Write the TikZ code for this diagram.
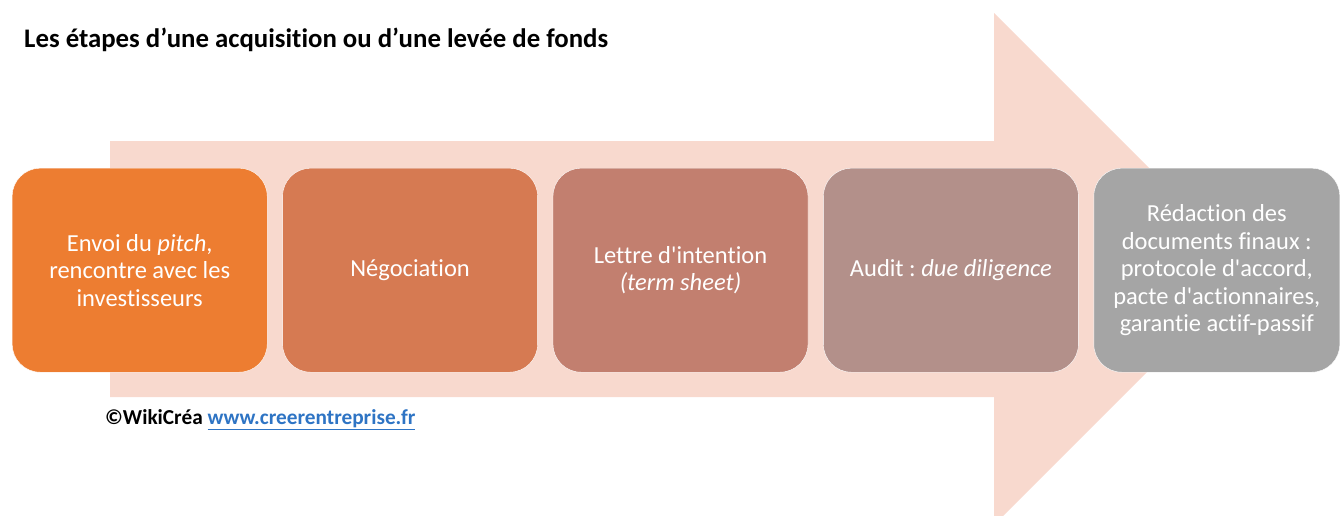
\documentclass[tikz,border=0pt]{standalone}
\usepackage{fontspec}
\setmainfont{Carlito}[Ligatures={TeXOff,NoCommon}]
\usetikzlibrary{positioning}
\definecolor{arrowpink}{HTML}{F8D9CE}
\definecolor{stepone}{HTML}{ED7D31}
\definecolor{steptwo}{HTML}{D67A52}
\definecolor{stepthree}{HTML}{C27F6F}
\definecolor{stepfour}{HTML}{B3908A}
\definecolor{stepfive}{HTML}{A5A5A5}
\definecolor{linkblue}{HTML}{2E74C4}
\def\myboxw{255pt}
\def\myboxh{204pt}
\def\mygap{15pt}
\frenchspacing
\tikzset{
x=1pt,y=-1pt, % pixel-like units, y going down
my node/.style={minimum width=\myboxw,minimum height=\myboxh,inner sep=2mm},
my step/.style={draw=white,thin,my node,rectangle,rounded corners=28pt,
  text=white,align=center,font=\fontsize{24.5}{27.5}\selectfont},
node distance=\mygap
}
\begin{document}
\begin{tikzpicture}
\useasboundingbox (0,0) rectangle (1341,515);
% big arrow behind the steps
\fill[arrowpink] (110,141) -- (994,141) -- (994,13) -- (1250,269)
  -- (994,525) -- (994,397) -- (110,397) -- cycle;
\node[anchor=base west,font=\bfseries\fontsize{26.8}{26.8}\selectfont,inner sep=0pt] (title) at (24,47)
  {Les étapes d’une acquisition ou d’une levée de fonds};
\node[my step,fill=stepone,anchor=north west] (s1) at (12,168)
  {Envoi du \textit{pitch},\\rencontre avec les\\investisseurs};
\node[my step,fill=steptwo,right=of s1] (s2) {Négociation};
\node[my step,fill=stepthree,right=of s2] (s3) {Lettre d'intention\\\textit{(term sheet)}};
\node[my step,fill=stepfour,right=of s3] (s4) {Audit : \textit{due diligence}};
\node[my step,fill=stepfive,right=of s4,minimum width=246pt] (s5)
  {Rédaction des\\documents finaux :\\protocole d'accord,\\pacte d'actionnaires,\\garantie actif-passif};
\node[anchor=base west,font=\bfseries\fontsize{21.3}{21.3}\selectfont,inner sep=0pt] (credit) at (105,424)
  {©WikiCréa \textcolor{linkblue}{\underline{www.creerentreprise.fr}}};
\end{tikzpicture}
\end{document}
